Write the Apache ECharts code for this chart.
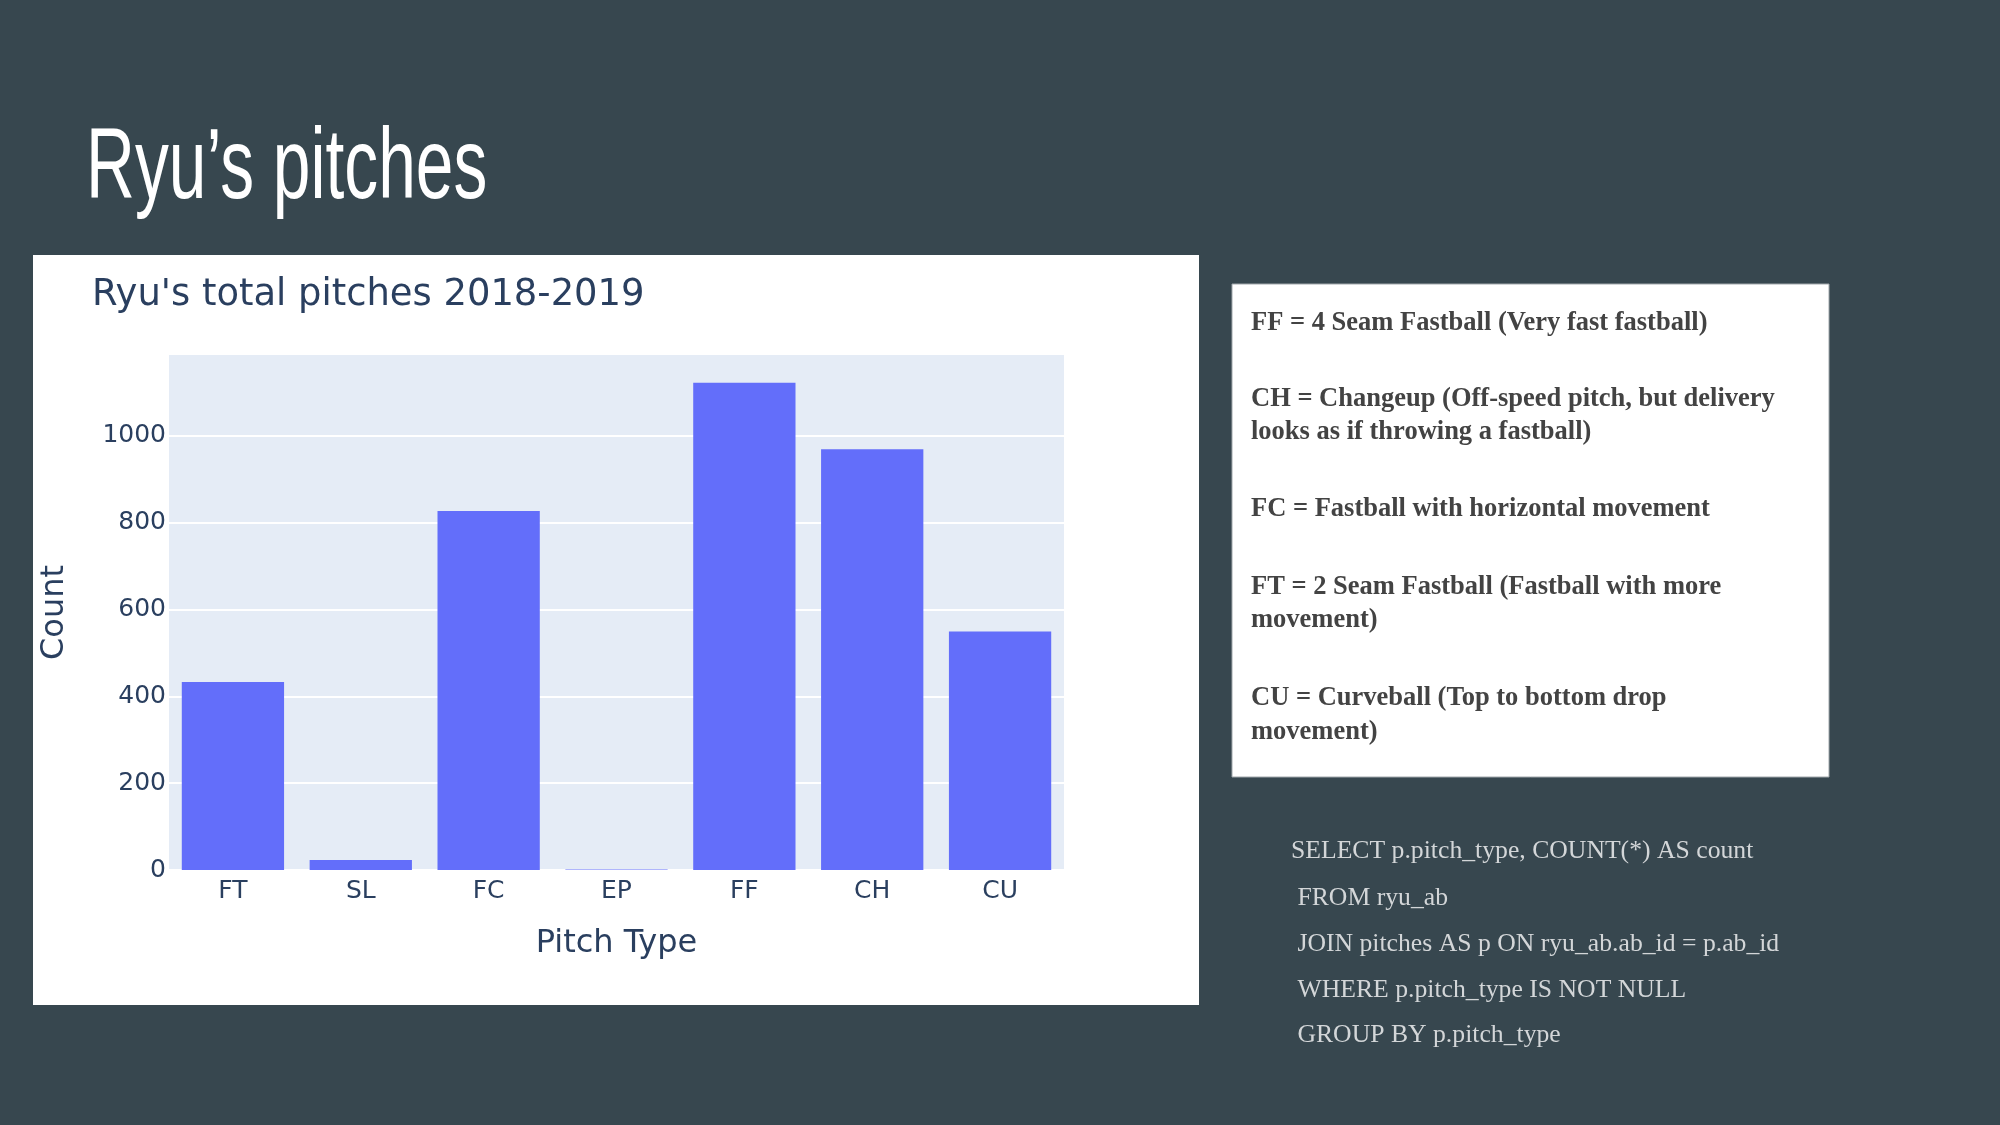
<!DOCTYPE html>
<html>
<head>
<meta charset="utf-8">
<script src="https://cdn.jsdelivr.net/npm/echarts@6/dist/echarts.min.js"></script>
<style>
  html, body { margin: 0; padding: 0; background: #37474f; }
  #chart { width: 2000px; height: 1125px; }
</style>
</head>
<body>
<div id="chart"></div>
<script>
// values
const pitchTypes = ["FT", "SL", "FC", "EP", "FF", "CH", "CU"];
const pitchCounts = [433, 23, 827, 1, 1122, 969, 549];
const countMax = 1186;
const countStep = 200;

// slide side texts
const pitchNotes = [
  "FF = 4 Seam Fastball (Very fast fastball)",
  "CH = Changeup (Off-speed pitch, but delivery",
  "looks as if throwing a fastball)",
  "FC = Fastball with horizontal movement",
  "FT = 2 Seam Fastball (Fastball with more",
  "movement)",
  "CU = Curveball (Top to bottom drop",
  "movement)"
];
const noteBaselines = [332, 408, 441, 518, 596, 629, 707, 741];

const sqlLines = [
  "SELECT p.pitch_type, COUNT(*) AS count",
  " FROM ryu_ab",
  " JOIN pitches AS p ON ryu_ab.ab_id = p.ab_id",
  " WHERE p.pitch_type IS NOT NULL",
  " GROUP BY p.pitch_type"
];
const sqlBaselines = [860, 907, 953, 999, 1044];

const plotlyInk = "#2a3f5f";
const plotlyFont = "DejaVu Sans";
const chart = echarts.init(document.getElementById("chart"));

function buildGraphics() {
  const items = [
    // white card behind the chart
    { type: "rect", z: -10, shape: { x: 33, y: 255, width: 1166, height: 750 }, style: { fill: "#ffffff" } },
    // white card with the pitch glossary
    { type: "rect", z: -10, shape: { x: 1232, y: 284, width: 597, height: 493 },
      style: { fill: "#ffffff", stroke: "#a0a7ab", lineWidth: 1 } },
    // slide heading, squeezed to look like a condensed face
    { type: "text", x: 86, y: 170, scaleX: 0.677,
      style: { text: "Ryu\u2019s pitches", font: '100px "Liberation Sans"', fill: "#ffffff",
               verticalAlign: "middle", align: "left" } },
    // plotly figure title
    { type: "text", x: 92, y: 295,
      style: { text: "Ryu's total pitches 2018-2019", font: '36.9px "' + plotlyFont + '"', fill: plotlyInk,
               verticalAlign: "middle", align: "left" } }
  ];

  pitchNotes.forEach((line, i) => {
    items.push({
      type: "text", x: 1251, y: noteBaselines[i] - 9,
      style: { text: line, font: 'bold 26.5px "Liberation Serif"', fill: "#434343",
               verticalAlign: "middle", align: "left" }
    });
  });

  sqlLines.forEach((line, i) => {
    items.push({
      type: "text", x: 1291, y: sqlBaselines[i] - 9,
      style: { text: line, font: '25.7px "Liberation Serif"', fill: "#d3d6d8",
               verticalAlign: "middle", align: "left" }
    });
  });
  return items;
}

const option = {
  animation: false,
  backgroundColor: "#37474f",
  textStyle: { fontFamily: plotlyFont },
  graphic: buildGraphics(),
  grid: {
    left: 169, right: 936, top: 355, bottom: 255,
    show: true, backgroundColor: "#e5ecf6", borderWidth: 0
  },
  xAxis: {
    type: "category",
    data: pitchTypes,
    axisLine: { show: false },
    axisTick: { show: false },
    axisLabel: { color: plotlyInk, fontSize: 25, margin: 9 },
    name: "Pitch Type",
    nameLocation: "middle",
    nameGap: 58,
    nameTextStyle: { color: plotlyInk, fontSize: 32 }
  },
  yAxis: {
    type: "value",
    min: 0,
    max: countMax,
    interval: countStep,
    axisLine: { show: false },
    axisTick: { show: false },
    axisLabel: { color: plotlyInk, fontSize: 25, margin: 3, showMaxLabel: false,
                 formatter: (v) => String(v) },
    splitLine: { show: true, showMaxLine: false, lineStyle: { color: "#ffffff", width: 2 } },
    name: "Count",
    nameLocation: "middle",
    nameGap: 98,
    nameRotate: 90,
    nameTextStyle: { color: plotlyInk, fontSize: 32 }
  },
  series: [
    {
      type: "bar",
      data: pitchCounts,
      barCategoryGap: "20%",
      itemStyle: { color: "#636efa" }
    }
  ]
};

chart.setOption(option);
</script>
</body>
</html>
